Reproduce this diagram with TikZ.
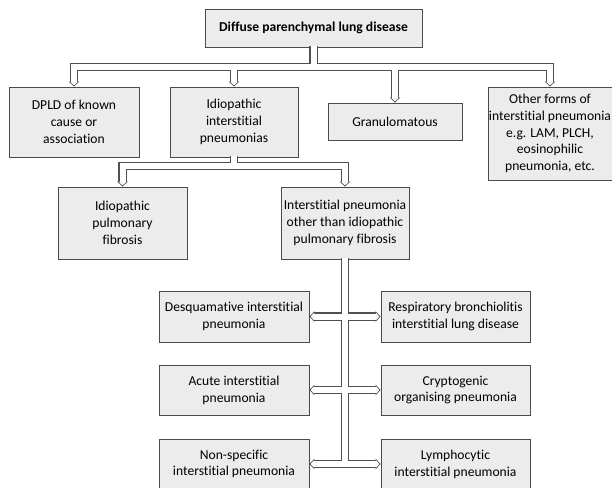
\documentclass[tikz,border=0pt]{standalone}
\usepackage{fontspec}
\setmainfont{Carlito}[Ligatures={NoCommon,NoContextual}]
\usetikzlibrary{arrows.meta}
\definecolor{boxline}{HTML}{4A4A4A}
\definecolor{boxfill}{HTML}{ECECEC}
\definecolor{pipeline}{HTML}{505050}
\tikzset{
  box/.style={draw=boxline, fill=boxfill, line width=0.9pt, align=center, inner sep=0pt,
              font=\fontsize{13.6}{16.8}\selectfont},
  pipeout/.style={draw=pipeline, line width=8.4pt},
  pipein/.style={draw=white, line width=6.0pt},
  tipout/.style={-{Triangle[length=5pt,width=10.4pt]}},
  tipin/.style={-{Triangle[length=3.4pt,width=7.6pt]}, shorten >=1.3pt},
}
\newcommand\drawpipes[2]{%
  \draw[#1,#2] ([yshift=1pt]top.south) -- (top.south |- b1) -| (dpld.north);
  \draw[#1,#2] ([yshift=1pt]top.south) -- (top.south |- b1) -| (iip.north);
  \draw[#1,#2] ([yshift=1pt]top.south) -- (top.south |- b1) -| (gran.north);
  \draw[#1,#2] ([yshift=1pt]top.south) -- (top.south |- b1) -| (other.north);
  \draw[#1,#2] ([yshift=1pt]iip.south) -- (iip.south |- b2) -| (ipf.north);
  \draw[#1,#2] ([yshift=1pt]iip.south) -- (iip.south |- b2) -| (ipo.north);
  \draw[#1,#2] ([yshift=1pt]ipo.south) |- (desq.east);
  \draw[#1,#2] ([yshift=1pt]ipo.south) |- (resp.west);
  \draw[#1,#2] ([yshift=1pt]ipo.south) |- (acute.east);
  \draw[#1,#2] ([yshift=1pt]ipo.south) |- (crypt.west);
  \draw[#1,#2] ([yshift=1pt]ipo.south) |- (nsip.east);
  \draw[#1,#2] ([yshift=1pt]ipo.south) |- (lip.west);
}
\begin{document}
\begin{tikzpicture}[x=1pt,y=-1pt]
\useasboundingbox (0,0) rectangle (612,487);
\coordinate (b1) at (0,67);
\coordinate (b2) at (0,166);
\node[box, minimum width=217pt, minimum height=38pt, font=\fontsize{13.6}{16.8}\selectfont\bfseries] (top) at (313.5,28) {Diffuse parenchymal lung disease};
\node[box, minimum width=130pt, minimum height=70pt] (dpld) at (74,122) {DPLD of known\\cause or\\association};
\node[box, minimum width=128pt, minimum height=70pt] (iip) at (234,122) {Idiopathic\\interstitial\\pneumonias};
\node[box, minimum width=134pt, minimum height=37pt] (gran) at (395,121.5) {Granulomatous};
\node[box, minimum width=124pt, minimum height=93pt] (other) at (550,133.5) {Other forms of\\interstitial pneumonia\\e.g. LAM, PLCH,\\eosinophilic\\pneumonia, etc.};
\node[box, minimum width=129pt, minimum height=72pt] (ipf) at (122.5,223) {Idiopathic\\pulmonary\\fibrosis};
\node[box, minimum width=128pt, minimum height=72pt] (ipo) at (345,223) {Interstitial pneumonia\\other than idiopathic\\pulmonary fibrosis};
\node[box, minimum width=150pt, minimum height=51pt] (desq) at (234,316.5) {Desquamative interstitial\\pneumonia};
\node[box, minimum width=149pt, minimum height=51pt] (resp) at (455.5,316.5) {Respiratory bronchiolitis\\interstitial lung disease};
\node[box, minimum width=150pt, minimum height=50pt] (acute) at (234,390) {Acute interstitial\\pneumonia};
\node[box, minimum width=149pt, minimum height=50pt] (crypt) at (455.5,390) {Cryptogenic\\organising pneumonia};
\node[box, minimum width=150pt, minimum height=50pt] (nsip) at (234,464) {Non-specific\\interstitial pneumonia};
\node[box, minimum width=149pt, minimum height=50pt] (lip) at (455.5,464) {Lymphocytic\\interstitial pneumonia};
\drawpipes{pipeout}{tipout}
\drawpipes{pipein}{tipin}
\end{tikzpicture}
\end{document}
